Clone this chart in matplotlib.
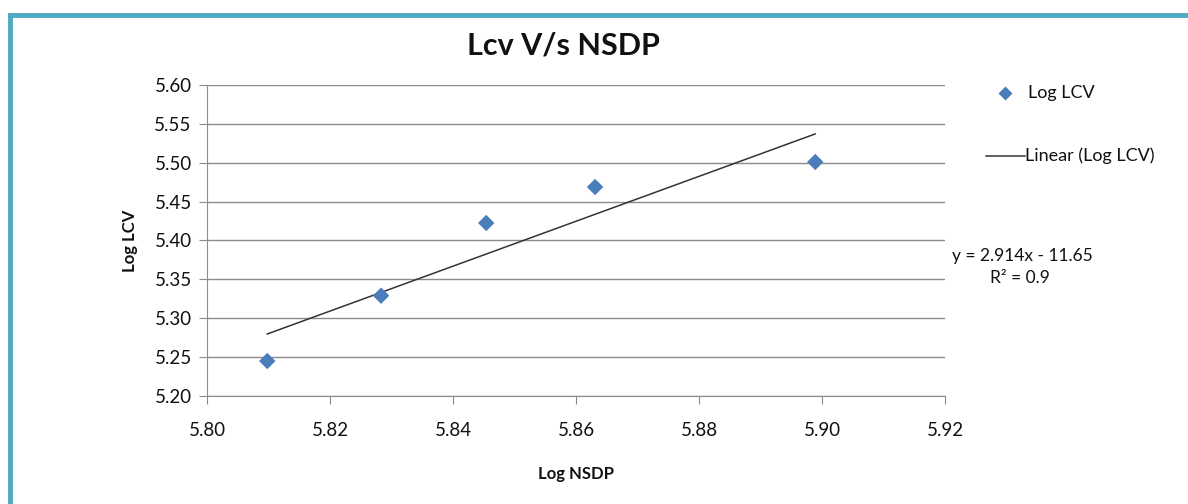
import numpy as np
import matplotlib
matplotlib.use("Agg")
import matplotlib.pyplot as plt
from matplotlib.lines import Line2D

plt.rcParams['font.family'] = ['Lato', 'DejaVu Sans']

log_nsdp = [5.8098, 5.8283, 5.8454, 5.8631, 5.8989]
log_lcv = [5.245, 5.329, 5.4225, 5.4688, 5.501]
x_ticks = [5.80, 5.82, 5.84, 5.86, 5.88, 5.90, 5.92]
y_ticks = [5.20, 5.25, 5.30, 5.35, 5.40, 5.45, 5.50, 5.55, 5.60]
title = "Lcv V/s NSDP"
eq_text = "y = 2.914x - 11.65"
r2_text = "R² = 0.9"

fig = plt.figure(figsize=(11.88, 5.04), dpi=100)
ax = fig.add_axes([207/1188, 1-396/504, (945-207)/1188, (396-85)/504])

ax.scatter(log_nsdp, log_lcv, marker='D', s=70, color='#4a7ebb', zorder=3,
           edgecolors='none')
coef = np.polyfit(log_nsdp, log_lcv, 1)
xs = np.array([min(log_nsdp), max(log_nsdp)])
ax.plot(xs, np.polyval(coef, xs), color='#333333', lw=1.1, zorder=2)

ax.set_xlim(5.80, 5.92)
ax.set_ylim(5.20, 5.60)
ax.set_xticks(x_ticks)
ax.set_yticks(y_ticks)
ax.set_xticklabels([f"{v:.2f}" for v in x_ticks])
ax.set_yticklabels([f"{v:.2f}" for v in y_ticks])
ax.grid(axis='y', color='#8c8c8c', lw=1)
ax.set_axisbelow(True)
for s in ['top', 'right']:
    ax.spines[s].set_visible(False)
for s in ['left', 'bottom']:
    ax.spines[s].set_color('#8c8c8c')
ax.tick_params(axis='both', colors='#8c8c8c', labelcolor='#111111',
               labelsize=13.5, length=6, direction='out')
ax.tick_params(axis='x', pad=13)
ax.tick_params(axis='y', pad=5)

ax.set_xlabel("Log NSDP", fontsize=12, fontweight='bold', color='#111111', labelpad=19)
ax.set_ylabel("Log LCV", fontsize=12, fontweight='bold', color='#111111', labelpad=12)
fig.text(563/1188, 1-45/504, title, ha='center', va='center', fontsize=22,
         fontweight='bold', color='#111111')

# legend
fig.add_artist(Line2D([1005/1188], [1-93/504], marker='D', markersize=7,
                      color='#4a7ebb', ls='none', markeredgecolor='none'))
fig.text(1028/1188, 1-93/504, "Log LCV", ha='left', va='center', fontsize=13, color='#111111')
fig.add_artist(Line2D([986/1188, 1025/1188], [1-156/504, 1-156/504], color='#333333', lw=1.1))
fig.text(1025/1188, 1-156/504, "Linear (Log LCV)", ha='left', va='center', fontsize=13, color='#111111')

fig.text(1022/1188, 1-256/504, eq_text, ha='center', va='center', fontsize=12.5, color='#111111')
fig.text(1020/1188, 1-278/504, r2_text, ha='center', va='center', fontsize=12.5, color='#111111')

# frame border
teal = '#4fa9c2'
fig.add_artist(Line2D([10/1188, 1.0], [1-15/504, 1-15/504], color=teal, lw=3.5))
fig.add_artist(Line2D([10/1188, 10/1188], [0, 1-15/504], color=teal, lw=3.5))

fig.savefig("out.png", dpi=100)
